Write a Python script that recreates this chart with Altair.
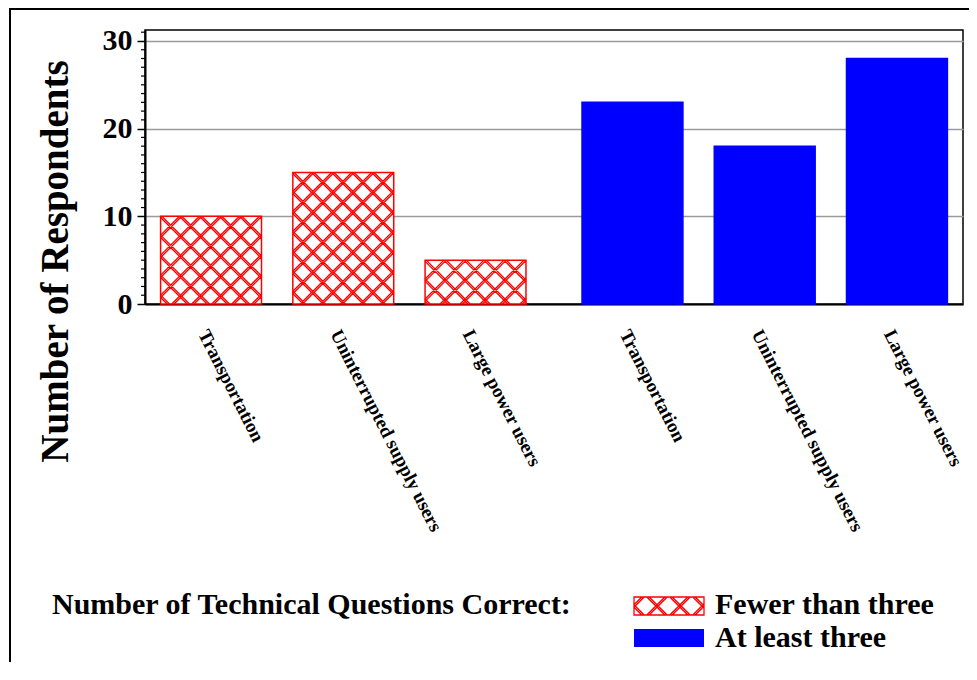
import math
import altair as alt
import pandas as pd

# ---------------- data ----------------
groups = ["Fewer than three", "At least three"]
categories = ["Transportation", "Uninterrupted supply users", "Large power users"]
fewer_values = [10, 15, 5]
atleast_values = [23, 18, 28]

legend_title = "Number of Technical Questions Correct:"
y_title = "Number of Respondents"
y_ticks = [0, 10, 20, 30]
y_max = 31.25
minor_ticks = [v for v in range(0, 32) if v % 10]

# ---------------- geometry / style ----------------
FONT = "Liberation Serif"
PLOT_W, PLOT_H = 818, 274
PX_PER_UNIT = PLOT_H / y_max
X_PI, X_PO = 0.133, 0.037
OFF_PI = 0.237
step = PLOT_W / (2 - X_PI + 2 * X_PO)
band = step * (1 - X_PI)
off_step = band / (3 - OFF_PI)
BAR_W = off_step * (1 - OFF_PI)
RED = "#ff0000"
BLUE = "#0000ff"

LABEL_ANGLE = 63
SHIFT_X = -8  # screen-space horizontal nudge of the category labels
LABEL_DX = SHIFT_X * math.cos(math.radians(LABEL_ANGLE))
LABEL_DY = -SHIFT_X * math.sin(math.radians(LABEL_ANGLE))


def hatch_lines(w, h, spacing, x0, y0, p1=0.0, p2=0.0, gap=2.4):
    """Crosshatch segments (double lines) clipped to the rect [x0,x0+w]x[y0,y0+h]."""
    segs = []
    kmin = int(math.floor(-(w + h) / spacing)) - 2
    kmax = int(math.ceil((w + h) / spacing)) + 2
    for k in range(kmin, kmax + 1):
        for d in (-gap / 2, gap / 2):
            c = k * spacing + p1 + d
            u1, u2 = max(0, c), min(w, h + c)
            if u2 - u1 > 0.4:
                segs.append(((u1, u1 - c), (u2, u2 - c)))
            c = k * spacing + p2 + d
            u1, u2 = max(0, c - h), min(w, c)
            if u2 - u1 > 0.4:
                segs.append(((u1, c - u1), (u2, c - u2)))
    return "".join(
        f"M{x0 + a[0]:.2f},{y0 + a[1]:.2f}L{x0 + b[0]:.2f},{y0 + b[1]:.2f}" for a, b in segs
    )


df = pd.DataFrame({
    "group": [groups[0]] * len(categories) + [groups[1]] * len(categories),
    "category": categories * 2,
    "value": fewer_values + atleast_values,
})

hatch_df = pd.DataFrame({
    "group": [groups[0]] * len(categories),
    "category": categories,
    "value": fewer_values,
})
hatch_df["path"] = [hatch_lines(BAR_W, v * PX_PER_UNIT, 20, -BAR_W / 2, 0) for v in fewer_values]

minor_df = pd.DataFrame({"value": minor_ticks})

# ---------------- encodings ----------------
x_enc = alt.X(
    "group:N", sort=groups,
    scale=alt.Scale(domain=groups, paddingInner=X_PI, paddingOuter=X_PO),
    axis=alt.Axis(labels=False, ticks=False, title=None, grid=False,
                  domainColor="black", domainWidth=2),
)
xo_enc = alt.XOffset(
    "category:N", sort=categories,
    scale=alt.Scale(domain=categories, paddingInner=OFF_PI, paddingOuter=0),
)
y_axis = alt.Axis(
    values=y_ticks, grid=True, gridColor="#9a9a9a", gridWidth=1.5,
    domainColor="black", domainWidth=2,
    tickColor="black", tickSize=8, tickWidth=1.5,
    labelFont=FONT, labelFontSize=30, labelFontWeight="bold", labelColor="black",
    labelPadding=5,
    titleFont=FONT, titleFontSize=39, titleFontWeight="bold", titleColor="black",
    titleX=-90, titleY=231, titleAngle=270, titleAlign="center", titleBaseline="middle",
)
y_enc = alt.Y("value:Q", scale=alt.Scale(domain=[0, y_max], nice=False, zero=True),
              axis=y_axis, title=y_title)

# ---------------- layers ----------------
bars = alt.Chart(df).mark_bar(strokeWidth=1.5).encode(
    x=x_enc, xOffset=xo_enc, y=y_enc,
    fill=alt.Fill("group:N", scale=alt.Scale(domain=groups, range=["white", BLUE]), legend=None),
    stroke=alt.Stroke("group:N", scale=alt.Scale(domain=groups, range=[RED, BLUE]), legend=None),
)

hatch = alt.Chart(hatch_df).mark_point(
    filled=False, opacity=1, size=4, strokeWidth=1.3, stroke=RED
).encode(
    x=x_enc, xOffset=xo_enc, y=y_enc, shape=alt.Shape("path:N", scale=None)
)

minor = alt.Chart(minor_df).mark_rule(color="black", strokeWidth=1.2).encode(
    y=y_enc, x=alt.value(-4), x2=alt.value(1)
)

xlabels = alt.Chart(df).mark_text(
    angle=LABEL_ANGLE, align="left", baseline="middle", font=FONT, fontSize=19,
    fontWeight="bold", color="black", dx=LABEL_DX, dy=LABEL_DY
).encode(x=x_enc, xOffset=xo_enc, y=alt.value(PLOT_H + 27), text="category:N")

# manual legend
leg_title = alt.Chart(pd.DataFrame({"t": [legend_title]})).mark_text(
    align="left", baseline="middle", font=FONT, fontSize=30, fontWeight="bold", color="black"
).encode(text="t:N", x=alt.value(-93), y=alt.value(575))

sym_hatch = "M-35,-9H35V9H-35Z" + hatch_lines(70, 18, 23, -35, -9, p1=-9, p2=9)
sym_rect = "M-35,-9H35V9H-35Z"

leg_sym1 = alt.Chart(pd.DataFrame({"g": [groups[0]]})).mark_point(
    shape=sym_hatch, size=4, filled=True, fill="white", stroke=RED, strokeWidth=1.3, opacity=1
).encode(x=alt.value(524), y=alt.value(576))
leg_sym2 = alt.Chart(pd.DataFrame({"g": [groups[1]]})).mark_point(
    shape=sym_rect, size=4, filled=True, fill=BLUE, strokeWidth=0, opacity=1
).encode(x=alt.value(524), y=alt.value(608))

leg_lab1 = alt.Chart(pd.DataFrame({"g": [groups[0]]})).mark_text(
    align="left", baseline="middle", font=FONT, fontSize=30, fontWeight="bold", color="black"
).encode(text="g:N", x=alt.value(570), y=alt.value(575))
leg_lab2 = alt.Chart(pd.DataFrame({"g": [groups[1]]})).mark_text(
    align="left", baseline="middle", font=FONT, fontSize=30, fontWeight="bold", color="black"
).encode(text="g:N", x=alt.value(570), y=alt.value(608))

# outer figure border (top and left visible)
frame_df = pd.DataFrame({"k": [0]})
top_line = alt.Chart(frame_df).mark_rule(color="black", strokeWidth=2).encode(
    x=alt.value(-136), x2=alt.value(840), y=alt.value(-21)
)
left_line = alt.Chart(frame_df).mark_rule(color="black", strokeWidth=2).encode(
    x=alt.value(-135), y=alt.value(-22), y2=alt.value(680)
)

chart = alt.layer(
    bars, hatch, minor, xlabels,
    leg_title, leg_sym1, leg_sym2, leg_lab1, leg_lab2,
    top_line, left_line,
).properties(
    width=PLOT_W, height=PLOT_H,
    padding={"left": 137, "top": 22, "right": 6, "bottom": 358},
    autosize=alt.AutoSizeParams(type="none"),
    background="white",
).configure_view(stroke="black", strokeWidth=1.5)

chart.save("out.html", embed_options={"renderer": "svg", "actions": False})
